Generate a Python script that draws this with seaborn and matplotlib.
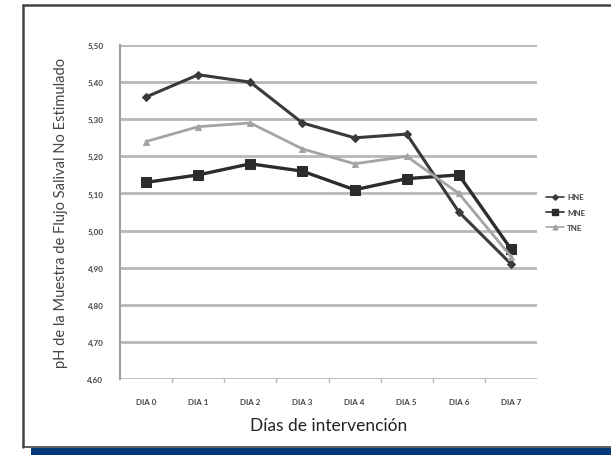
import matplotlib
matplotlib.use("Agg")
import matplotlib.pyplot as plt
import seaborn as sns
import pandas as pd
from matplotlib.lines import Line2D
from matplotlib.patches import Rectangle

days = ["DIA 0", "DIA 1", "DIA 2", "DIA 3", "DIA 4", "DIA 5", "DIA 6", "DIA 7"]
hne = [5.36, 5.42, 5.40, 5.29, 5.25, 5.26, 5.05, 4.91]
mne = [5.13, 5.15, 5.18, 5.16, 5.11, 5.14, 5.15, 4.95]
tne = [5.24, 5.28, 5.29, 5.22, 5.18, 5.20, 5.10, 4.93]
series_names = ["HNE", "MNE", "TNE"]
y_ticks = [4.6, 4.7, 4.8, 4.9, 5.0, 5.1, 5.2, 5.3, 5.4, 5.5]

sns.set_style("white")
plt.rcParams['font.family'] = ['Lato', 'DejaVu Sans']

rows = []
for name, vals in zip(series_names, [hne, mne, tne]):
    for d, v in zip(days, vals):
        rows.append({"day": d, "ph": v, "serie": name})
df = pd.DataFrame(rows)
df["day"] = pd.Categorical(df["day"], categories=days, ordered=True)
df["x"] = df["day"].cat.codes

fig = plt.figure(figsize=(6.11, 4.56), dpi=100)
ax = fig.add_axes([0.1964, 0.1667, 0.879 - 0.1964, 0.899 - 0.1667])

palette = {"HNE": "#3a3a3a", "MNE": "#2c2c2c", "TNE": "#a4a4a4"}
markers = {"HNE": "D", "MNE": "s", "TNE": "^"}
sizes_m = {"HNE": 4, "MNE": 7, "TNE": 5}
lws = {"HNE": 2.2, "MNE": 2.4, "TNE": 2.0}

for name in series_names:
    sub = df[df["serie"] == name]
    sns.lineplot(data=sub, x="x", y="ph", ax=ax, color=palette[name],
                 marker=markers[name], markersize=sizes_m[name], linewidth=lws[name],
                 markeredgecolor=palette[name], legend=False, zorder=3)

ax.set_xlim(-0.5, len(days) - 0.5)
ax.set_ylim(4.6, 5.5)
ax.set_yticks(y_ticks)
ax.set_yticklabels([f"{t:.2f}".replace(".", ",") for t in y_ticks],
                   fontsize=5.8, fontweight="bold", color="#444444")
ax.set_xticks(range(len(days)))
ax.set_xticklabels(days, fontsize=5.8, fontweight="bold", color="#444444")
ax.tick_params(axis="both", length=0, pad=12)
ax.tick_params(axis="x", pad=14)

for t in y_ticks:
    ax.axhline(t, color="#b8b8b8", linewidth=2.0, zorder=1)
for b in [i + 0.5 for i in range(len(days) - 1)]:
    ax.plot([b, b], [4.6, 4.593], color="#b8b8b8", linewidth=1, clip_on=False, zorder=1)

for s in ["top", "right", "bottom"]:
    ax.spines[s].set_visible(False)
ax.spines["left"].set_color("#a0a0a0")
ax.spines["left"].set_linewidth(1.5)

ax.set_xlabel("Días de intervención", fontsize=12.5, color="#222222", labelpad=8)
ax.set_ylabel("pH de la Muestra de Flujo Salival No Estimulado", fontsize=10.5,
              color="#444444", labelpad=14)

handles = [Line2D([0], [0], color=palette[n], marker=markers[n],
                  markersize=sizes_m[n] * 0.7, linewidth=1.2) for n in series_names]
leg = ax.legend(handles, series_names, loc="center left", bbox_to_anchor=(1.005, 0.50),
                frameon=False, fontsize=5.8, handlelength=2.2, labelspacing=1.0,
                handletextpad=0.4)
for t in leg.get_texts():
    t.set_fontweight("bold")
    t.set_color("#444444")

# outer frame
fig.add_artist(Line2D([23 / 611, 1.0], [1 - 5.5 / 456, 1 - 5.5 / 456], color="#444444",
                      linewidth=1.8, transform=fig.transFigure))
fig.add_artist(Line2D([23 / 611, 23 / 611], [1 - 5.5 / 456, 1 - 448 / 456], color="#444444",
                      linewidth=1.8, transform=fig.transFigure))
fig.add_artist(Line2D([23 / 611, 1.0], [1 - 448 / 456, 1 - 448 / 456], color="#444444",
                      linewidth=1.2, transform=fig.transFigure))
fig.add_artist(Rectangle((31 / 611, 0), 1 - 31 / 611, 7 / 456, transform=fig.transFigure,
                         facecolor="#003a78", edgecolor="none"))

fig.savefig("out.png", dpi=100)
